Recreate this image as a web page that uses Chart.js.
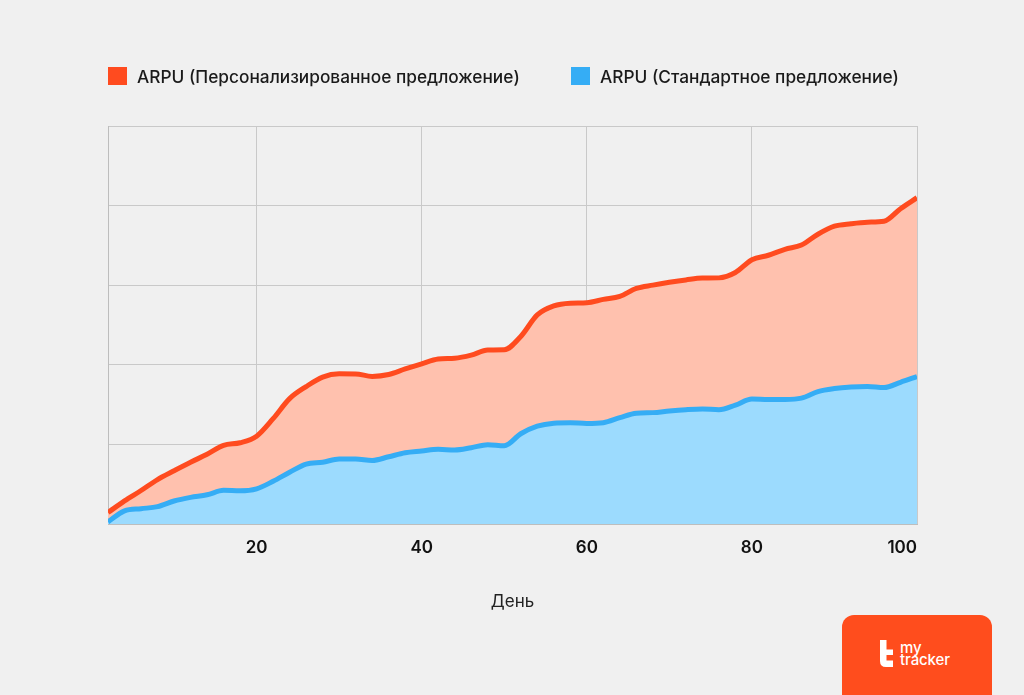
<!DOCTYPE html>
<html><head><meta charset="utf-8">
<script src="https://cdn.jsdelivr.net/npm/chart.js@4"></script>
<style>
html,body{margin:0;padding:0;background:#f0f0f0;width:1024px;height:695px;overflow:hidden;}
#wrap{position:absolute;left:0;top:0;width:1024px;height:695px;}
.leg{position:absolute;top:67px;height:18px;display:flex;align-items:center;font-family:Inter,sans-serif;font-weight:500;font-size:17.3px;color:#1a1a1a;white-space:nowrap;}
.leg i{display:inline-block;width:19px;height:18px;margin-right:10px;flex:none;}
#logo{position:absolute;left:842px;top:615px;width:150px;height:110px;background:#ff4d1d;border-radius:12px;}
#logo svg{position:absolute;left:38px;top:25px;}
#logo .t{position:absolute;left:58px;top:27px;color:#fff;font-family:Inter,sans-serif;font-weight:500;font-size:15px;line-height:11.5px;letter-spacing:-0.1px;}
</style></head><body>
<div id="wrap"><canvas id="c" width="1024" height="695"></canvas></div>
<div class="leg" style="left:108px"><i style="background:#ff4b1f"></i><span>ARPU (Персонализированное предложение)</span></div>
<div class="leg" style="left:571px"><i style="background:#35adf5"></i><span>ARPU (Стандартное предложение)</span></div>
<div id="logo"><svg width="14" height="27" viewBox="0 0 14 27"><path d="M0,0 H6.5 V9.5 H13 V15 H6.5 V20.5 H13 V27 H6 Q0,27 0,21 Z" fill="#fff"/></svg><div class="t">my<br>tracker</div></div>
<script>
const days = [2,4,6,8,10,12,14,16,18,20,22,24,26,28,30,32,34,36,38,40,42,44,46,48,50,52,54,56,58,60,62,64,66,68,70,72,74,76,78,80,82,84,86,88,90,92,94,96,98,100];
const arpuPersonal = [0.146,0.293,0.423,0.561,0.671,0.778,0.878,0.99,1.023,1.105,1.325,1.577,1.728,1.847,1.888,1.887,1.856,1.879,1.949,2.014,2.074,2.084,2.123,2.187,2.19,2.357,2.628,2.741,2.775,2.781,2.823,2.861,2.961,3.002,3.037,3.067,3.09,3.093,3.16,3.32,3.377,3.452,3.505,3.641,3.742,3.773,3.792,3.804,3.962,4.1];
const arpuStandard = [0.03,0.167,0.195,0.22,0.291,0.337,0.369,0.425,0.419,0.444,0.539,0.652,0.755,0.778,0.818,0.818,0.80,0.847,0.897,0.919,0.941,0.931,0.96,0.998,0.985,1.136,1.231,1.269,1.275,1.266,1.275,1.338,1.394,1.401,1.422,1.438,1.447,1.438,1.495,1.573,1.567,1.567,1.583,1.665,1.703,1.722,1.728,1.715,1.782,1.854];
const tickDays = [2,20,40,60,80,100];
const seriesNames = ['ARPU (Персонализированное предложение)','ARPU (Стандартное предложение)'];

const toPts = vals => days.map((d,i)=>({x:d,y:vals[i]}));
new Chart(document.getElementById('c'), {
  type:'line',
  data:{datasets:[
    {label:seriesNames[0],data:toPts(arpuPersonal),borderColor:'#ff4b1f',backgroundColor:'#ffc1ae',borderWidth:5,pointRadius:0,fill:'+1',cubicInterpolationMode:'monotone'},
    {label:seriesNames[1],data:toPts(arpuStandard),borderColor:'#35adf5',backgroundColor:'#9cdbfe',borderWidth:5,pointRadius:0,fill:'origin',cubicInterpolationMode:'monotone'}
  ]},
  options:{
    responsive:false,animation:false,devicePixelRatio:1,
    layout:{padding:{left:108,right:107,top:126,bottom:83}},
    plugins:{legend:{display:false},tooltip:{enabled:false},filler:{drawTime:'beforeDatasetsDraw'}},
    scales:{
      x:{type:'linear',min:2,max:100,
        afterBuildTicks:s=>{s.ticks=tickDays.map(v=>({value:v}));},
        ticks:{align:'inner',autoSkip:false,maxRotation:0,padding:13,color:'#111',font:{family:'Inter',size:17,weight:'600'},callback:v=>v===2?'':String(v)},
        grid:{color:'#c9c9c9',drawTicks:false},
        border:{color:'#bdbdbd'},
        title:{display:true,text:'День',color:'#222',font:{family:'Inter',size:17,weight:'400'},padding:{top:21,bottom:0}}
      },
      y:{min:0,max:5,ticks:{display:false,stepSize:1},grid:{color:'#c9c9c9',drawTicks:false},border:{color:'#bdbdbd'}}
    }
  }
});
</script>
</body></html>
